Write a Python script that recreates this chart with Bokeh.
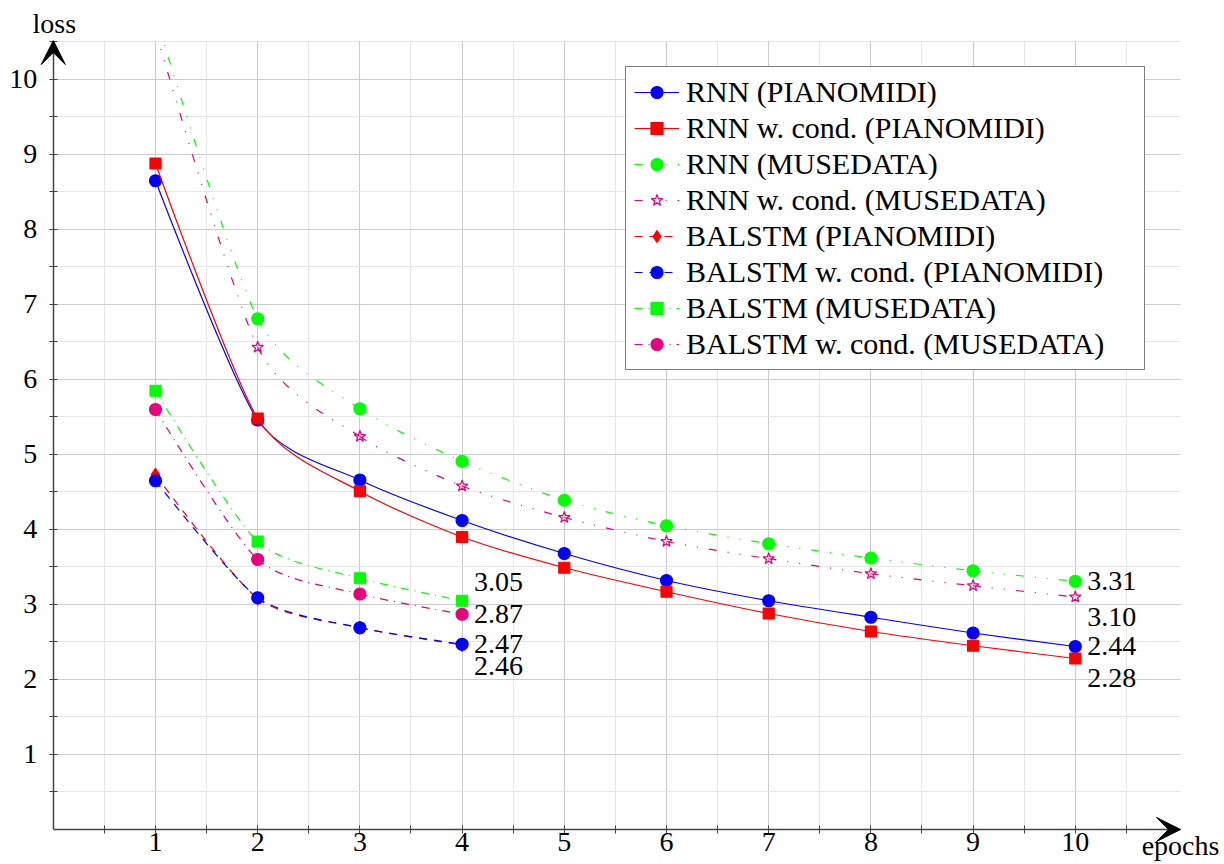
from bokeh.plotting import figure
from bokeh.models import (Range1d, FixedTicker, Legend, LegendItem, ColumnDataSource,
                          Arrow, VeeHead, Label, Title)
from bokeh.core.properties import value
from bokeh.embed import file_html
from bokeh.resources import INLINE

# ---------------- data ----------------
epochs_rnn = [1, 2, 3, 4, 5, 6, 7, 8, 9, 10]
epochs_balstm = [1, 2, 3, 4]

rnn_pianomidi = [8.65, 5.46, 4.66, 4.12, 3.68, 3.32, 3.05, 2.83, 2.62, 2.44]
rnn_cond_pianomidi = [8.88, 5.48, 4.51, 3.90, 3.49, 3.17, 2.88, 2.64, 2.45, 2.28]
rnn_musedata = [10.85, 6.81, 5.61, 4.91, 4.39, 4.05, 3.81, 3.62, 3.45, 3.31]
rnn_cond_musedata = [10.65, 6.43, 5.24, 4.58, 4.16, 3.84, 3.61, 3.41, 3.25, 3.10]

balstm_pianomidi = [4.73, 3.08, 2.69, 2.46]
balstm_cond_pianomidi = [4.65, 3.09, 2.69, 2.47]
balstm_musedata = [5.85, 3.84, 3.35, 3.05]
balstm_cond_musedata = [5.60, 3.60, 3.14, 2.87]

series_labels = [
    "RNN (PIANOMIDI)",
    "RNN w. cond. (PIANOMIDI)",
    "RNN (MUSEDATA)",
    "RNN w. cond. (MUSEDATA)",
    "BALSTM (PIANOMIDI)",
    "BALSTM w. cond. (PIANOMIDI)",
    "BALSTM (MUSEDATA)",
    "BALSTM w. cond. (MUSEDATA)",
]

x_ticks = [1, 2, 3, 4, 5, 6, 7, 8, 9, 10]
y_ticks = [1, 2, 3, 4, 5, 6, 7, 8, 9, 10]
minor_ticks = [0.5, 1.5, 2.5, 3.5, 4.5, 5.5, 6.5, 7.5, 8.5, 9.5, 10.5]

x_title = "epochs"
y_title = "loss"

# end-value annotations: index of the series whose last value is printed
end_label_series = [6, 7, 5, 4, 2, 3, 0, 1]
end_label_shift = [-19, 0, 0, 21, 0, 20, 0, 20]   # vertical pixel shift

# ---------------- style ----------------
FONT = "Liberation Serif"
BLUE = "#0000ff"
RED = "#ff0000"
GREEN = "#00ff00"
PINK = "#e6007e"
AXIS = "#444444"
DASH_DOT_DOT = "8 11 1 11 1 11"
DASH_DOT = "8 6 1 6"
DASHED = "8 7"

X_END = 11.03
Y_END = 10.52
# frame extends left/right/bottom beyond the axes so arrow heads and labels fit
X_START = -0.5166
X_MAX = 11.46
Y_START = -0.4667

p = figure(width=1224, height=864, x_range=Range1d(X_START, X_MAX), y_range=Range1d(Y_START, Y_END),
           output_backend="svg", toolbar_location=None,
           min_border_left=0, min_border_right=0, min_border_top=40, min_border_bottom=0)
p.outline_line_color = None
p.background_fill_color = "white"
p.border_fill_color = "white"

for ax, ticks, end in ((p.xaxis, x_ticks, X_END), (p.yaxis, y_ticks, Y_END)):
    ax.ticker = FixedTicker(ticks=ticks, minor_ticks=minor_ticks)
    ax.fixed_location = 0
    ax.bounds = (0, end)
    ax.axis_line_color = AXIS
    ax.axis_line_width = 1.5
    ax.major_tick_line_color = AXIS
    ax.minor_tick_line_color = AXIS
    ax.major_tick_in = 4
    ax.major_tick_out = 4
    ax.minor_tick_in = 4
    ax.minor_tick_out = 4
    ax.major_label_text_font = FONT
    ax.major_label_text_font_size = "28px"
    ax.major_label_text_color = "black"
p.xaxis.major_label_standoff = 0
p.yaxis.major_label_standoff = 12

for g, cb in ((p.xgrid, (0, Y_END)), (p.ygrid, (0, X_END))):
    g.cross_bounds = cb
    g.grid_line_color = "#cccccc"
    g.grid_line_width = 1.1
    g.minor_grid_line_color = "#e6e6e6"
    g.minor_grid_line_width = 1

TENSION = 0.12


def bezier_source(xs, ys):
    n = len(xs)
    d = dict(x0=[], y0=[], x1=[], y1=[], cx0=[], cy0=[], cx1=[], cy1=[])
    for i in range(n - 1):
        d["x0"].append(xs[i]); d["y0"].append(ys[i])
        d["x1"].append(xs[i + 1]); d["y1"].append(ys[i + 1])
        if i == 0:
            cx0, cy0 = xs[i], ys[i]
        else:
            cx0 = xs[i] + TENSION * (xs[i + 1] - xs[i - 1])
            cy0 = ys[i] + TENSION * (ys[i + 1] - ys[i - 1])
        if i + 1 == n - 1:
            cx1, cy1 = xs[i + 1], ys[i + 1]
        else:
            cx1 = xs[i + 1] - TENSION * (xs[i + 2] - xs[i])
            cy1 = ys[i + 1] - TENSION * (ys[i + 2] - ys[i])
        d["cx0"].append(cx0); d["cy0"].append(cy0)
        d["cx1"].append(cx1); d["cy1"].append(cy1)
    return ColumnDataSource(d)


series = [
    (epochs_rnn, rnn_pianomidi, BLUE, "solid", "circle", 12, BLUE),
    (epochs_rnn, rnn_cond_pianomidi, RED, "solid", "square", 11, RED),
    (epochs_rnn, rnn_musedata, GREEN, DASH_DOT_DOT, "circle", 12, GREEN),
    (epochs_rnn, rnn_cond_musedata, PINK, DASH_DOT_DOT, "star", 12, None),
    (epochs_balstm, balstm_pianomidi, RED, DASHED, "diamond", 13, RED),
    (epochs_balstm, balstm_cond_pianomidi, BLUE, DASHED, "circle", 12, BLUE),
    (epochs_balstm, balstm_musedata, GREEN, DASH_DOT, "square", 11, GREEN),
    (epochs_balstm, balstm_cond_musedata, PINK, DASH_DOT, "circle", 12, PINK),
]

items = []
for label, (xs, ys, color, dash, marker, size, fill) in zip(series_labels, series):
    src = bezier_source(xs, ys)
    br = p.bezier(x0="x0", y0="y0", x1="x1", y1="y1", cx0="cx0", cy0="cy0",
                  cx1="cx1", cy1="cy1", source=src, line_color=color,
                  line_width=1.2, line_dash=dash)
    sr = p.scatter(xs, ys, marker=marker, size=size, line_color=color,
                   fill_color=fill if fill else color,
                   fill_alpha=1.0 if fill else 0.0, line_width=1.2)
    items.append(LegendItem(label=label, renderers=[br, sr]))

# end-value labels
lx, ly, lt, lo = [], [], [], []
for si, shift in zip(end_label_series, end_label_shift):
    xs, ys = series[si][0], series[si][1]
    lx.append(xs[-1]); ly.append(ys[-1]); lt.append(f"{ys[-1]:.2f}"); lo.append(shift)
p.text(x=lx, y=ly, text=lt, y_offset=lo, x_offset=12, text_font=value(FONT),
       text_font_size="28px", text_align="left", text_baseline="middle", text_color="black")

legend = Legend(items=items, location=(625, 494))
legend.label_text_font = FONT
legend.label_text_font_size = "30px"
legend.label_text_color = "black"
legend.glyph_width = 45
legend.glyph_height = 30
legend.label_standoff = 7
legend.label_width = 450
legend.padding = 8
legend.spacing = 2
legend.margin = 0
legend.border_line_color = "black"
legend.border_line_width = 1.2
legend.background_fill_color = "white"
legend.background_fill_alpha = 1.0
p.add_layout(legend)

# axis arrows
p.add_layout(Arrow(end=VeeHead(size=24, fill_color="black", line_color="black"),
                   x_start=0, y_start=0, x_end=0, y_end=Y_END, line_alpha=0))
p.add_layout(Arrow(end=VeeHead(size=24, fill_color="black", line_color="black"),
                   x_start=0, y_start=0, x_end=X_END, y_end=0, line_alpha=0))

p.add_layout(Title(text=y_title, align="left", offset=32, standoff=3, text_font=FONT,
                   text_font_size="28px", text_font_style="normal", text_color="black"), "above")
p.add_layout(Label(x=X_END, y=0, text=x_title, text_align="center", text_baseline="bottom",
                   y_offset=-32, text_font=FONT, text_font_size="28px", text_color="black"))

open("out.html", "w").write(file_html(p, INLINE))
